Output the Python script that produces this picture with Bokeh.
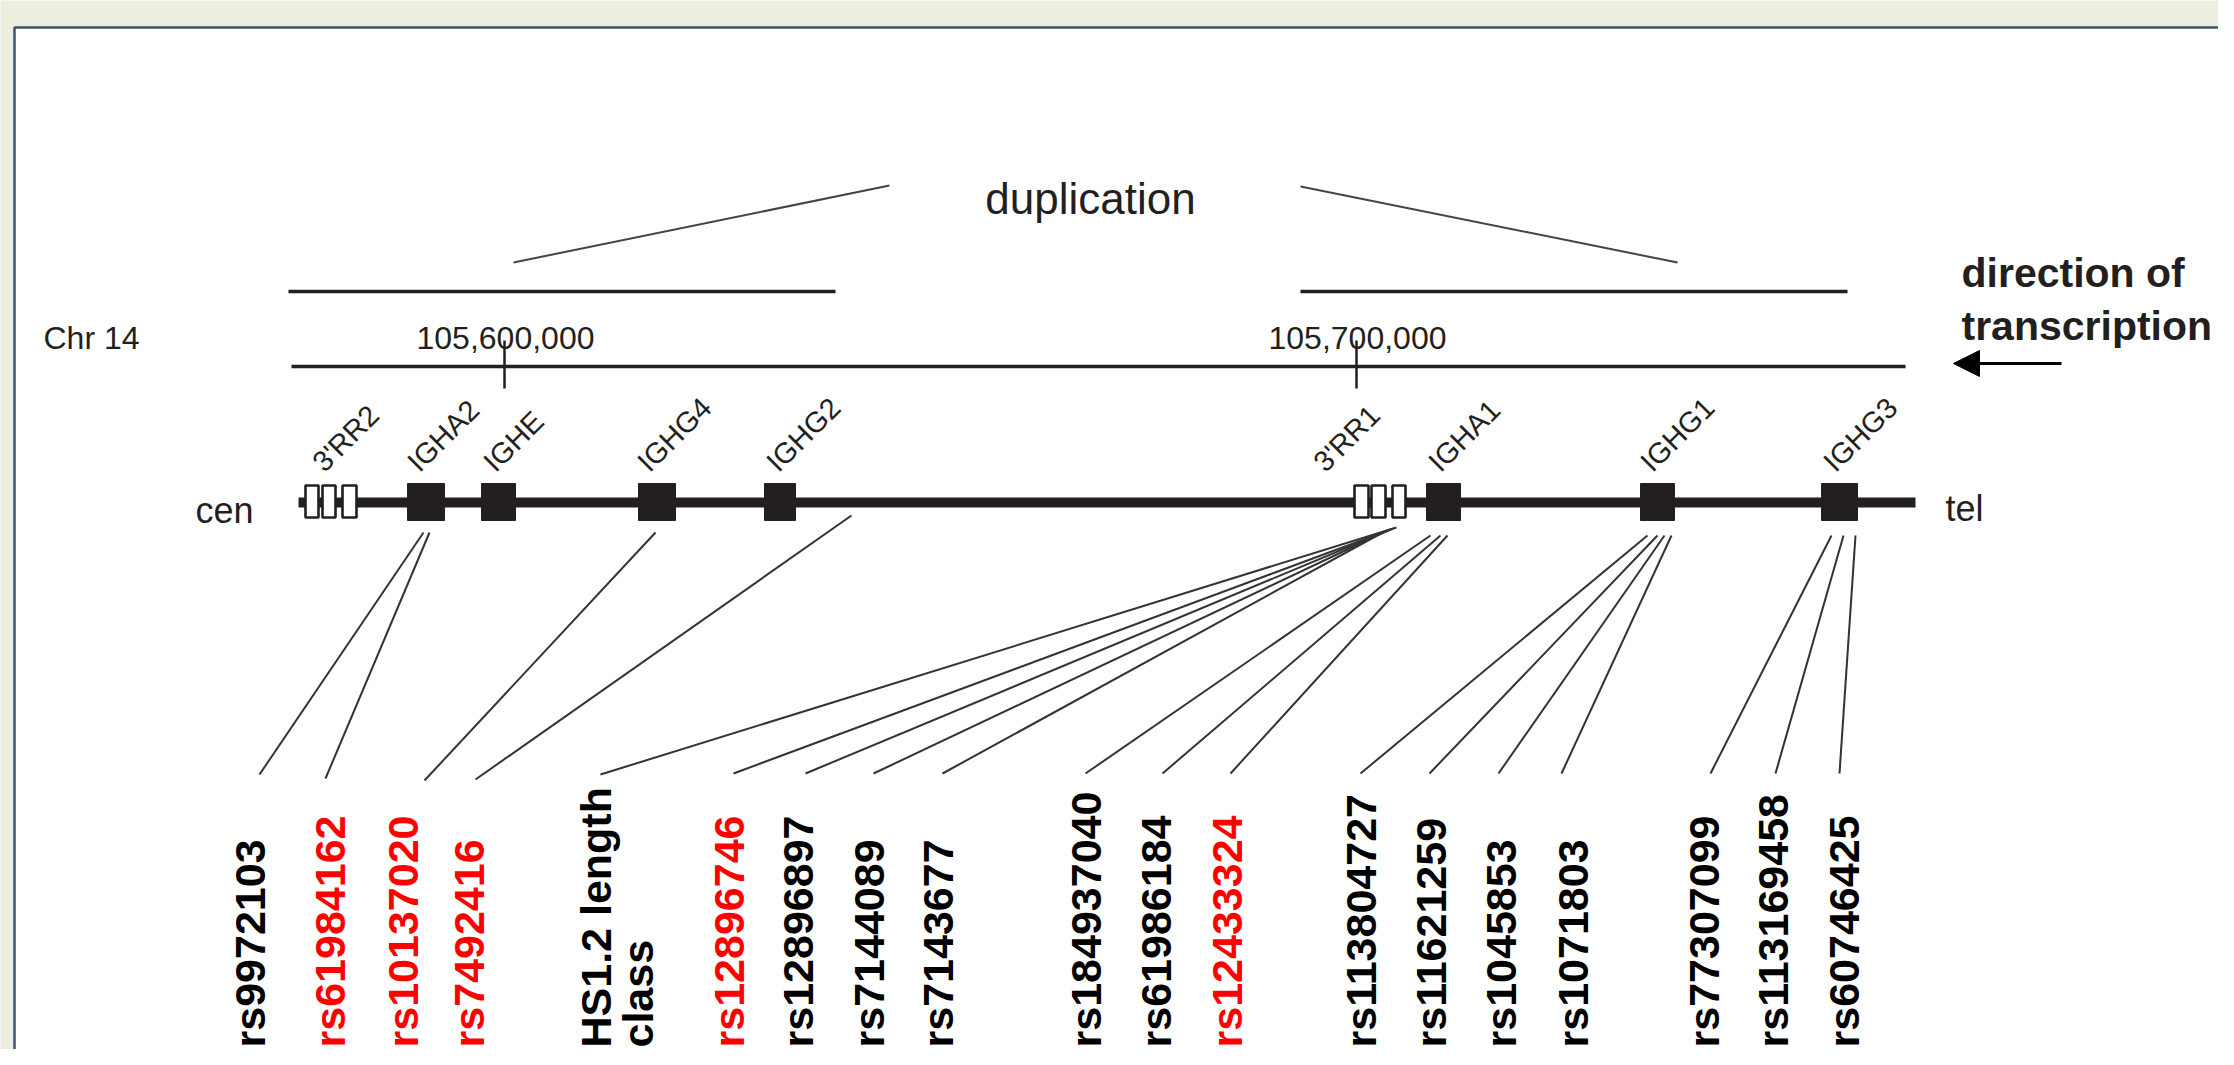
import math
from bokeh.plotting import figure
from bokeh.models import Range1d, Arrow, NormalHead, ColumnDataSource
from bokeh.core.properties import value
from bokeh.embed import file_html
from bokeh.resources import INLINE

# ---------------- data (diagram coordinates) ----------------
# genes on the chromosome (solid boxes)
gene_names = ["IGHA2", "IGHE", "IGHG4", "IGHG2", "IGHA1", "IGHG1", "IGHG3"]
gene_left = [407, 481, 638, 764, 1426, 1640, 1821]
gene_right = [444, 515, 675, 795, 1460, 1674, 1857]

# 3' regulatory regions (open boxes, three enhancers each)
enh_left = [305, 322, 342, 1354, 1371, 1392]
enh_right = [318, 335, 356, 1368, 1385, 1405]

# slanted labels over the chromosome
feat_labels = ["3'RR2", "IGHA2", "IGHE", "IGHG4", "IGHG2", "3'RR1", "IGHA1", "IGHG1", "IGHG3"]
feat_label_x = [317, 412, 488, 642, 771, 1318, 1433, 1645, 1828]

# genomic scale
tick_labels = ["105,600,000", "105,700,000"]
tick_x = [504, 1356]

# duplicated segments
dup_start = [288, 1300]
dup_end = [835, 1847]

# SNP labels and the connector lines (from the feature to the label)
snp_names = ["rs9972103", "rs61984162", "rs10137020", "rs7492416", "HS1.2 length\nclass",
             "rs12896746", "rs12896897", "rs7144089", "rs7143677",
             "rs184937040", "rs61986184", "rs12433324",
             "rs113804727", "rs11621259", "rs1045853", "rs1071803",
             "rs77307099", "rs113169458", "rs60746425"]
snp_highlight = [False, True, True, True, False,
                 True, False, False, False,
                 False, False, True,
                 False, False, False, False,
                 False, False, False]
snp_label_x = [249, 329, 402, 468, 595, 728, 797, 868, 937,
               1085, 1155, 1226, 1360, 1430, 1500, 1572, 1703, 1772, 1843]
conn_top_x = [423, 429, 655, 851, 1396, 1393, 1390, 1387, 1384,
              1430, 1440, 1447, 1647, 1657, 1664, 1671, 1831, 1843, 1855]
conn_top_y = [532, 532, 532, 515, 527, 528, 529, 530, 531,
              535, 535, 535, 535, 535, 535, 535, 535, 535, 535]
conn_bot_x = [259, 325, 424, 475, 600, 733, 805, 873, 942,
              1085, 1162, 1230, 1360, 1429, 1498, 1561, 1710, 1775, 1839]
conn_bot_y = [774, 778, 780, 779, 774, 773, 773, 773, 773,
              773, 773, 773, 773, 773, 773, 773, 773, 773, 773]

# ---------------- layout / style ----------------
W, H = 2218, 1049
FONT = value("Liberation Sans")
INK = "#231f20"
BG = "#eceedf"

chrom_y = 502
chrom_x0, chrom_x1 = 298, 1915
scale_y = 366
scale_x0, scale_x1 = 291, 1905
dup_y = 291

p = figure(width=W, height=H, x_range=Range1d(0, W), y_range=Range1d(H, 0),
           output_backend="svg", toolbar_location=None, min_border=0,
           x_axis_location=None, y_axis_location=None)
p.grid.visible = False
p.outline_line_color = None
p.background_fill_color = BG
p.border_fill_color = BG

# white panel
p.quad(left=[14], right=[2400], top=[27], bottom=[1200], fill_color="white",
       line_color="#3d5570", line_width=2.5)

# duplication brackets and diagonals
p.segment(x0=dup_start, y0=[dup_y] * 2, x1=dup_end, y1=[dup_y] * 2, line_color=INK, line_width=3.5)
p.segment(x0=[513, 1300], y0=[262, 186], x1=[889, 1677], y1=[185, 262], line_color="#444444", line_width=2)
p.text(x=[1090], y=[198], text=["duplication"], text_font=FONT, text_font_size="44px",
       text_align="center", text_baseline="alphabetic", text_color=INK)

# genomic scale
p.text(x=[43], y=[337], text=["Chr 14"], text_font=FONT, text_font_size="32px",
       text_align="left", text_baseline="alphabetic", text_color=INK)
p.segment(x0=[scale_x0], y0=[scale_y], x1=[scale_x1], y1=[scale_y], line_color=INK, line_width=3.5)
p.segment(x0=tick_x, y0=[340] * 2, x1=tick_x, y1=[388] * 2, line_color=INK, line_width=2.5)
p.text(x=[t + 1 for t in tick_x], y=[337] * 2, text=tick_labels, text_font=FONT, text_font_size="32px",
       text_align="center", text_baseline="alphabetic", text_color=INK)

# direction of transcription
p.text(x=[1961, 1961], y=[272, 325], text=["direction of", "transcription"], text_font=FONT,
       text_font_size="41px", text_font_style="bold", text_align="left",
       text_baseline="alphabetic", text_color=INK)
p.add_layout(Arrow(end=NormalHead(size=26, fill_color="black", line_color="black"),
                   x_start=2061, y_start=363, x_end=1953, y_end=363,
                   line_color="black", line_width=3))

# chromosome
p.segment(x0=[chrom_x0], y0=[chrom_y], x1=[chrom_x1], y1=[chrom_y], line_color=INK, line_width=10)
p.quad(left=gene_left, right=gene_right, top=[483] * len(gene_left), bottom=[520] * len(gene_left),
       fill_color=INK, line_color=INK, line_width=1)
p.quad(left=enh_left, right=enh_right, top=[485] * len(enh_left), bottom=[517] * len(enh_left),
       fill_color="white", line_color=INK, line_width=2.6)
p.text(x=[195], y=[510], text=["cen"], text_font=FONT, text_font_size="36px",
       text_align="left", text_baseline="alphabetic", text_color=INK)
p.text(x=[1945], y=[508], text=["tel"], text_font=FONT, text_font_size="36px",
       text_align="left", text_baseline="alphabetic", text_color=INK)

p.text(x=feat_label_x, y=[466] * len(feat_label_x), text=feat_labels, angle=math.pi / 4,
       text_font=FONT, text_font_size="29px", text_align="left", text_baseline="alphabetic",
       text_color=INK)

# connectors
p.segment(x0=conn_top_x, y0=conn_top_y, x1=conn_bot_x, y1=conn_bot_y,
          line_color="#333333", line_width=2)

# SNP labels (multi-line labels split into separate columns)
lx, lt, lc = [], [], []
for name, hl, x in zip(snp_names, snp_highlight, snp_label_x):
    for i, part in enumerate(name.split("\n")):
        lx.append(x + 42 * i)
        lt.append(part)
        lc.append("#ff0000" if hl else "#000000")
src = ColumnDataSource(dict(x=lx, y=[1047] * len(lx), text=lt, color=lc))
p.text(x="x", y="y", text="text", text_color="color", source=src, angle=math.pi / 2,
       text_font=FONT, text_font_size="43px", text_font_style="bold",
       text_align="left", text_baseline="middle")

open("out.html", "w").write(file_html(p, INLINE))
